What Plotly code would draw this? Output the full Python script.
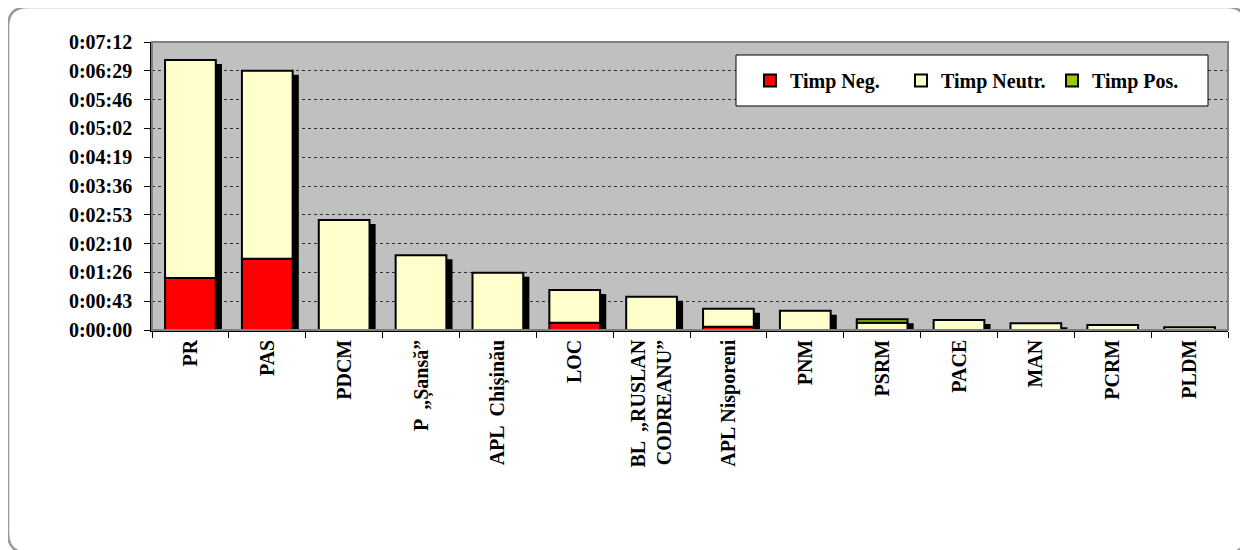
import plotly.graph_objects as go

categories = ["PR", "PAS", "PDCM", "P  „Șansă”", "APL  Chișinău", "LOC",
              "BL  „RUSLAN<br>CODREANU”", "APL Nisporeni", "PNM", "PSRM",
              "PACE", "MAN", "PCRM", "PLDM"]
# seconds
timp_neg = [78, 107, 0, 0, 0, 11, 0, 5, 0, 0, 0, 0, 0, 0]
timp_neutr = [327, 282, 165, 112, 86, 49, 50, 27, 29, 11, 15, 10, 7.5, 4]
timp_pos = [0, 0, 0, 0, 0, 0, 0, 0, 0, 5, 0, 0, 0, 0]

tick_vals = [0, 43.2, 86.4, 129.6, 172.8, 216, 259.2, 302.4, 345.6, 388.8, 432]
tick_text = ["0:00:00", "0:00:43", "0:01:26", "0:02:10", "0:02:53", "0:03:36",
             "0:04:19", "0:05:02", "0:05:46", "0:06:29", "0:07:12"]

FONT = "Liberation Serif"
BAR_W = 0.66
SHADOW_DX = 0.08
SHADOW_DY = 6

def nz(v):
    return [x if x > 0 else None for x in v]

totals = [a + b + c for a, b, c in zip(timp_neg, timp_neutr, timp_pos)]
shadow = [max(t - SHADOW_DY, 0) for t in totals]
base_neu = timp_neg
base_pos = [a + b for a, b in zip(timp_neg, timp_neutr)]

fig = go.Figure()
fig.add_trace(go.Bar(x=categories, y=shadow, base=0, width=BAR_W,
                     offset=-BAR_W / 2 + SHADOW_DX, marker=dict(color="black", line=dict(width=0)),
                     showlegend=False, hoverinfo="skip"))
line = dict(color="black", width=2)
fig.add_trace(go.Bar(x=categories, y=nz(timp_neg), base=0, width=BAR_W, name="Timp Neg.",
                     marker=dict(color="#FF0000", line=line)))
fig.add_trace(go.Bar(x=categories, y=nz(timp_neutr), base=base_neu, width=BAR_W, name="Timp Neutr.",
                     marker=dict(color="#FFFFCC", line=line)))
fig.add_trace(go.Bar(x=categories, y=nz(timp_pos), base=base_pos, width=BAR_W, name="Timp Pos.",
                     marker=dict(color="#99CC00", line=line)))

# page has an 8px body margin: figure coordinates = page coordinates - 8
OFF = 8
W, H = 1248 - OFF, 550 - OFF
L, R, T, B = 152 - OFF, 1248 - 1228, 42 - OFF, 550 - 330
pw, ph = W - L - R, H - T - B

def px(x):
    return (x - OFF - L) / pw

def py(y):
    return (H - B - (y - OFF)) / ph

# rounded outer frame (page coords)
x0, x1, y0, y1, r = 8, 1246.5, 7, 553, 20
path = (f"M {px(x0 + r)},{py(y0)} L {px(x1 - r)},{py(y0)} "
        f"Q {px(x1)},{py(y0)} {px(x1)},{py(y0 + r)} L {px(x1)},{py(y1 - r)} "
        f"Q {px(x1)},{py(y1)} {px(x1 - r)},{py(y1)} L {px(x0 + r)},{py(y1)} "
        f"Q {px(x0)},{py(y1)} {px(x0)},{py(y1 - r)} L {px(x0)},{py(y0 + r)} "
        f"Q {px(x0)},{py(y0)} {px(x0 + r)},{py(y0)} Z")
shapes = [
    dict(type="path", xref="paper", yref="paper", path=path,
         line=dict(color="#9A9A9A", width=2.5), layer="below"),
    dict(type="rect", xref="paper", yref="paper", x0=0, x1=1, y0=0, y1=1,
         line=dict(color="#808080", width=2), fillcolor="rgba(0,0,0,0)", layer="above"),
    dict(type="rect", xref="paper", yref="paper", x0=px(736), x1=px(1208), y0=py(106), y1=py(55),
         line=dict(color="black", width=1), fillcolor="white", layer="above"),
]

fig.update_layout(
    width=W, height=H,
    barmode="overlay",
    margin=dict(l=L, r=R, t=T, b=B, autoexpand=False),
    paper_bgcolor="white",
    plot_bgcolor="#C0C0C0",
    font=dict(family=FONT, color="black", size=18),
    shapes=shapes,
    showlegend=True,
    legend=dict(orientation="h", x=px(750), y=py(80.5), xanchor="left", yanchor="middle",
                bgcolor="rgba(0,0,0,0)", borderwidth=0, itemwidth=30,
                entrywidth=106, entrywidthmode="pixels",
                font=dict(family=FONT, size=20, weight="bold"), traceorder="normal"),
    bargap=0.34,
)
fig.update_yaxes(range=[0, 432], tickvals=tick_vals, ticktext=tick_text,
                 showgrid=True, gridcolor="#303030", griddash="dot", gridwidth=1,
                 showline=True, linecolor="black", linewidth=1.5,
                 ticks="outside", ticklen=6, tickcolor="black", ticklabelstandoff=8,
                 tickfont=dict(family=FONT, size=20, weight="bold"), zeroline=False)
fig.update_xaxes(type="category", tickangle=-90, tickson="boundaries",
                 showline=True, linecolor="black", linewidth=1.5,
                 ticks="outside", ticklen=6, tickcolor="black", showgrid=False,
                 tickfont=dict(family=FONT, size=20, weight="bold"),
                 range=[-0.5, len(categories) - 0.5])

fig.write_html("out.html")
